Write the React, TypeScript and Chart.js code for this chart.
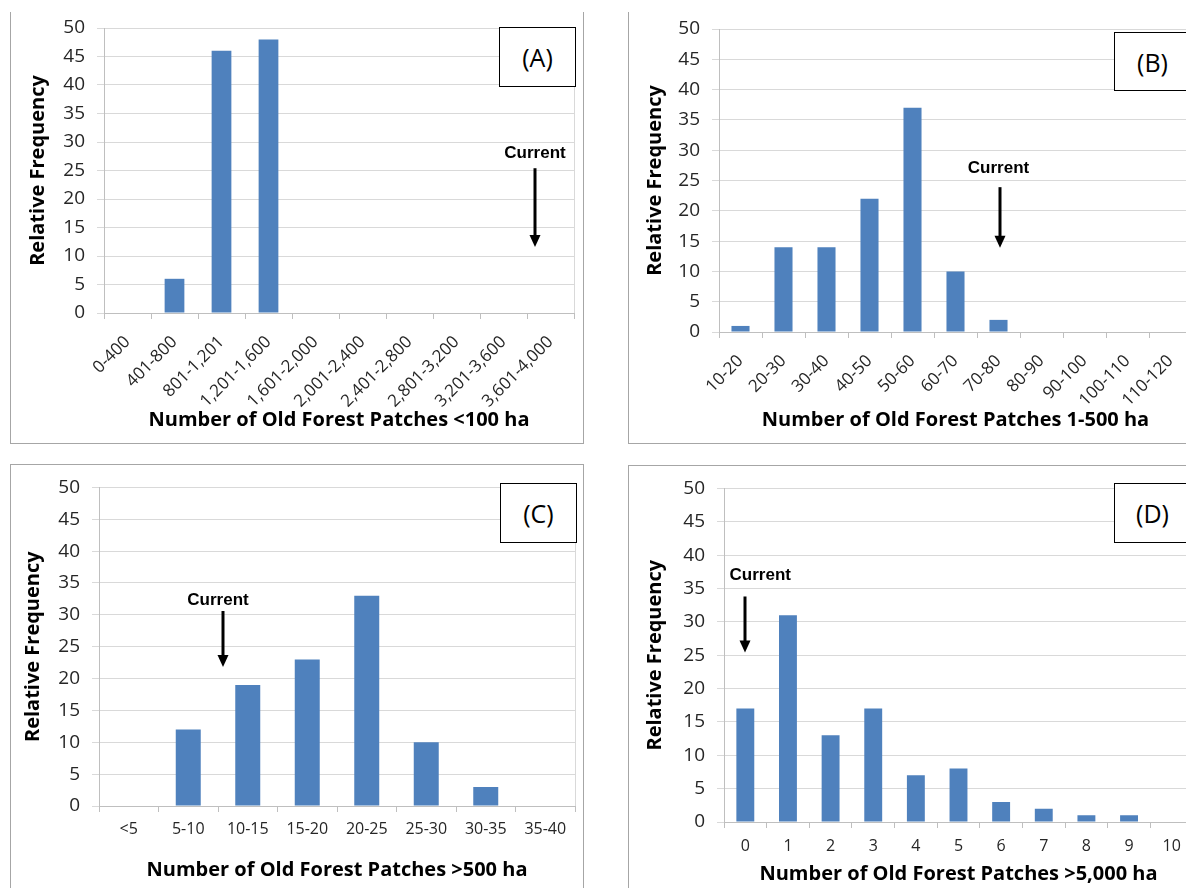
import React, { useEffect, useRef } from 'react';
import { Chart, registerables } from 'chart.js';

Chart.register(...registerables);
Chart.defaults.font.family = '"Open Sans", sans-serif';

// ---------- data ----------
const categoriesA = ['0-400', '401-800', '801-1,201', '1,201-1,600', '1,601-2,000', '2,001-2,400', '2,401-2,800', '2,801-3,200', '3,201-3,600', '3,601-4,000'];
const valuesA = [0, 6, 46, 48, 0, 0, 0, 0, 0, 0];

const categoriesB = ['10-20', '20-30', '30-40', '40-50', '50-60', '60-70', '70-80', '80-90', '90-100', '100-110', '110-120'];
const valuesB = [1, 14, 14, 22, 37, 10, 2, 0, 0, 0, 0];

const categoriesC = ['<5', '5-10', '10-15', '15-20', '20-25', '25-30', '30-35', '35-40'];
const valuesC = [0, 12, 19, 23, 33, 10, 3, 0];

const categoriesD = ['0', '1', '2', '3', '4', '5', '6', '7', '8', '9', '10'];
const valuesD = [17, 31, 13, 17, 7, 8, 3, 2, 1, 1, 0];

const yTicks = [0, 5, 10, 15, 20, 25, 30, 35, 40, 45, 50];

const xTitleA = 'Number of Old Forest Patches <100 ha';
const xTitleB = 'Number of Old Forest Patches 1-500 ha';
const xTitleC = 'Number of Old Forest Patches >500 ha';
const xTitleD = 'Number of Old Forest Patches >5,000 ha';
const yTitle = 'Relative Frequency';
const currentLabel = 'Current';

// "Current" marker: [text category pos, text value, arrow category pos, arrow top value, arrow tip value]
const currentA = [8.67, 28, 8.67, 25.4, 11.6];
const currentB = [6.0, 27, 6.03, 23.9, 13.9];
const currentC = [1.5, 32.3, 1.58, 30.6, 21.8];
const currentD = [0.35, 36.9, 0.0, 33.8, 25.4];

const BAR = '#4f81bd';
const GRID = '#d9d9d9';
const AXIS = '#bfbfbf';

const currentPlugin = {
  id: 'currentMark',
  afterDatasetsDraw(chart: any, _args: any, opts: any) {
    const { ctx, chartArea } = chart;
    const x = chart.scales.x;
    const y = chart.scales.y;
    ctx.save();
    // plot area right border
    ctx.strokeStyle = GRID;
    ctx.lineWidth = 1;
    ctx.beginPath();
    ctx.moveTo(Math.round(chartArea.right) + 0.5, chartArea.top);
    ctx.lineTo(Math.round(chartArea.right) + 0.5, chartArea.bottom);
    ctx.stroke();

    const m = opts.mark as number[];
    const tx = x.getPixelForValue(m[0]);
    const ty = y.getPixelForValue(m[1]);
    ctx.fillStyle = '#000';
    ctx.font = 'bold 17px "Liberation Sans", Arial, sans-serif';
    ctx.textAlign = 'center';
    ctx.textBaseline = 'middle';
    ctx.fillText(currentLabel, tx, ty);

    const ax = Math.round(x.getPixelForValue(m[2]));
    const y0 = y.getPixelForValue(m[3]);
    const y1 = y.getPixelForValue(m[4]);
    ctx.strokeStyle = '#000';
    ctx.lineWidth = 3;
    ctx.beginPath();
    ctx.moveTo(ax, y0);
    ctx.lineTo(ax, y1 - 10);
    ctx.stroke();
    ctx.beginPath();
    ctx.moveTo(ax - 5.5, y1 - 12);
    ctx.lineTo(ax + 5.5, y1 - 12);
    ctx.lineTo(ax, y1);
    ctx.closePath();
    ctx.fill();
    ctx.restore();
  },
};

type PanelProps = {
  labels: string[];
  values: number[];
  xTitle: string;
  mark: number[];
  tag: string;
  canvas: { left: number; top: number; width: number; height: number };
  frame: { left: number; top: number; width: number; height: number; noTop?: boolean };
  box: { left: number; top: number; width: number; height: number };
  yAxisWidth: number;
  xAxisHeight: number;
  padTop: number;
  padRight: number;
  yTitlePad: number;
  xTitlePad: number;
  rotate: boolean;
  xTickPad: number;
};

function Panel(p: PanelProps) {
  const ref = useRef<HTMLCanvasElement | null>(null);
  useEffect(() => {
    if (!ref.current) return;
    const chart = new Chart(ref.current, {
      type: 'bar',
      data: {
        labels: p.labels,
        datasets: [
          {
            data: p.values,
            backgroundColor: BAR,
            borderWidth: 0,
            barPercentage: 1,
            categoryPercentage: 0.42,
          },
        ],
      },
      plugins: [currentPlugin],
      options: {
        animation: false,
        responsive: false,
        maintainAspectRatio: false,
        devicePixelRatio: 1,
        layout: { padding: { left: 0, top: p.padTop, right: p.padRight, bottom: 0 } },
        plugins: {
          legend: { display: false },
          tooltip: { enabled: false },
          currentMark: { mark: p.mark },
        } as any,
        scales: {
          x: {
            type: 'category',
            offset: true,
            grid: {
              display: true,
              drawOnChartArea: false,
              drawTicks: true,
              tickLength: 6,
              color: AXIS,
              offset: true,
            },
            border: { display: true, color: AXIS, width: 1 },
            ticks: {
              autoSkip: false,
              minRotation: p.rotate ? 45 : 0,
              maxRotation: p.rotate ? 45 : 0,
              padding: p.xTickPad,
              color: '#262626',
              font: { size: p.rotate ? 17 : 16 },
            },
            title: {
              display: true,
              text: p.xTitle,
              color: '#000',
              font: { size: 20, weight: 'bold', lineHeight: 1.2 },
              padding: { top: 0, bottom: p.xTitlePad },
            },
            afterFit: (s: any) => {
              s.height = p.xAxisHeight;
            },
          },
          y: {
            type: 'linear',
            min: 0,
            max: 50,
            afterBuildTicks: (s: any) => {
              s.ticks = yTicks.map((v) => ({ value: v }));
            },
            grid: { color: GRID, drawTicks: true, tickLength: 7 },
            border: { display: true, color: AXIS, width: 1 },
            ticks: { padding: 12, color: '#262626', font: { size: 19 } },
            title: {
              display: true,
              text: yTitle,
              color: '#000',
              font: { size: 20, weight: 'bold', lineHeight: 1.2 },
              padding: { top: p.yTitlePad, bottom: 0 },
            },
            afterFit: (s: any) => {
              s.width = p.yAxisWidth;
            },
          },
        },
      } as any,
    });
    return () => chart.destroy();
  }, []);

  const f = p.frame;
  return (
    <>
      <div
        style={{
          position: 'absolute',
          left: f.left,
          top: f.top,
          width: f.width,
          height: f.height,
          boxSizing: 'border-box',
          border: '1px solid #a6a6a6',
          borderTop: f.noTop ? 'none' : '1px solid #a6a6a6',
        }}
      />
      <canvas
        ref={ref}
        width={p.canvas.width}
        height={p.canvas.height}
        style={{
          position: 'absolute',
          left: p.canvas.left,
          top: p.canvas.top,
          width: p.canvas.width,
          height: p.canvas.height,
        }}
      />
      <div
        style={{
          position: 'absolute',
          left: p.box.left,
          top: p.box.top,
          width: p.box.width,
          height: p.box.height,
          boxSizing: 'border-box',
          border: '1.5px solid #000',
          background: '#fff',
          display: 'flex',
          alignItems: 'center',
          justifyContent: 'center',
          fontFamily: '"Open Sans", sans-serif',
          fontSize: 25,
          color: '#000',
        }}
      >
        {p.tag}
      </div>
    </>
  );
}

export default function App() {
  return (
    <div
      style={{
        position: 'absolute',
        left: 0,
        top: 0,
        width: 1186,
        height: 888,
        overflow: 'hidden',
        background: '#fff',
      }}
    >
      <Panel
        labels={categoriesA}
        values={valuesA}
        xTitle={xTitleA}
        mark={currentA}
        tag="(A)"
        canvas={{ left: 11, top: 0, width: 572, height: 443 }}
        frame={{ left: 10, top: 12, width: 574, height: 432, noTop: true }}
        box={{ left: 499, top: 27, width: 77, height: 60 }}
        yAxisWidth={93}
        xAxisHeight={130}
        padTop={28}
        padRight={9}
        yTitlePad={15}
        xTitlePad={11}
        rotate={true}
        xTickPad={13}
      />
      <Panel
        labels={categoriesB}
        values={valuesB}
        xTitle={xTitleB}
        mark={currentB}
        tag="(B)"
        canvas={{ left: 629, top: 0, width: 600, height: 443 }}
        frame={{ left: 628, top: 12, width: 620, height: 432, noTop: true }}
        box={{ left: 1114, top: 32, width: 77, height: 59 }}
        yAxisWidth={90}
        xAxisHeight={111}
        padTop={29}
        padRight={37}
        yTitlePad={14}
        xTitlePad={11}
        rotate={true}
        xTickPad={13}
      />
      <Panel
        labels={categoriesC}
        values={valuesC}
        xTitle={xTitleC}
        mark={currentC}
        tag="(C)"
        canvas={{ left: 11, top: 464, width: 572, height: 424 }}
        frame={{ left: 10, top: 464, width: 574, height: 440 }}
        box={{ left: 500, top: 483, width: 77, height: 60 }}
        yAxisWidth={88}
        xAxisHeight={82}
        padTop={17}
        padRight={8}
        yTitlePad={10}
        xTitlePad={6}
        rotate={false}
        xTickPad={8}
      />
      <Panel
        labels={categoriesD}
        values={valuesD}
        xTitle={xTitleD}
        mark={currentD}
        tag="(D)"
        canvas={{ left: 628, top: 465, width: 600, height: 423 }}
        frame={{ left: 628, top: 465, width: 620, height: 440 }}
        box={{ left: 1114, top: 483, width: 77, height: 60 }}
        yAxisWidth={96}
        xAxisHeight={66}
        padTop={18}
        padRight={35}
        yTitlePad={15}
        xTitlePad={2}
        rotate={false}
        xTickPad={9}
      />
    </div>
  );
}
